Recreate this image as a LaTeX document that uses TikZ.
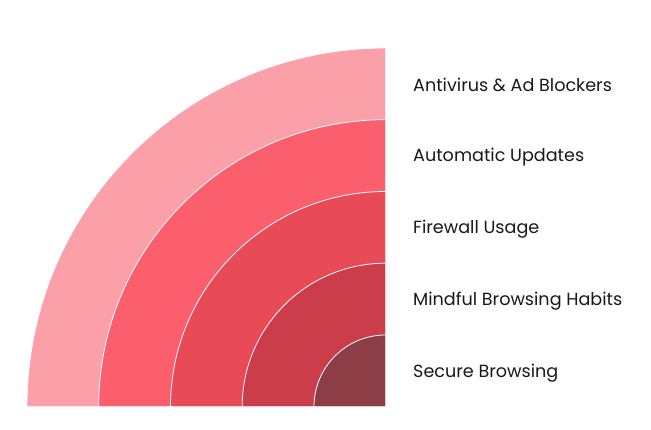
\documentclass[tikz,border=0pt]{standalone}
\usepackage{fontspec}
\setmainfont{Poppins}
\definecolor{ringA}{HTML}{FBA0A8}
\definecolor{ringB}{HTML}{FB5F6E}
\definecolor{ringC}{HTML}{E84A58}
\definecolor{ringD}{HTML}{CC3D4B}
\definecolor{ringE}{HTML}{8C3D45}
\begin{document}
\begin{tikzpicture}[x=1pt,y=-1pt,
  ring/.style={draw=white, line width=0.8pt},
  ringlabel/.style={anchor=west, inner sep=0pt, font=\fontsize{17.6}{19}\selectfont, text=black!90}]
  \useasboundingbox (0,0) rectangle (651,430);   % page size of the reference
  \coordinate (o) at (385.7,406.7);             % common centre of the rings
  % quarter rings, outer first (y points down, so the arc ends at 270)
  \filldraw[ring, fill=ringA] (o) -- ++(-358.7,0) arc[start angle=180, end angle=270, radius=358.7] -- cycle;
  \filldraw[ring, fill=ringB] (o) -- ++(-287,0) arc[start angle=180, end angle=270, radius=287] -- cycle;
  \filldraw[ring, fill=ringC] (o) -- ++(-215.2,0) arc[start angle=180, end angle=270, radius=215.2] -- cycle;
  \filldraw[ring, fill=ringD] (o) -- ++(-143.5,0) arc[start angle=180, end angle=270, radius=143.5] -- cycle;
  \filldraw[ring, fill=ringE] (o) -- ++(-71.7,0) arc[start angle=180, end angle=270, radius=71.7] -- cycle;
  % the labels, one per ring
  \node[ringlabel] (antivirus) at (413,85)  {Antivirus \& Ad Blockers};
  \node[ringlabel] (updates)   at (413,157) {Automatic Updates};
  \node[ringlabel] (firewall)  at (413,229) {Firewall Usage};
  \node[ringlabel] (mindful)   at (413,301) {Mindful Browsing Habits};
  \node[ringlabel] (secure)    at (413,373) {Secure Browsing};
\end{tikzpicture}
\end{document}
